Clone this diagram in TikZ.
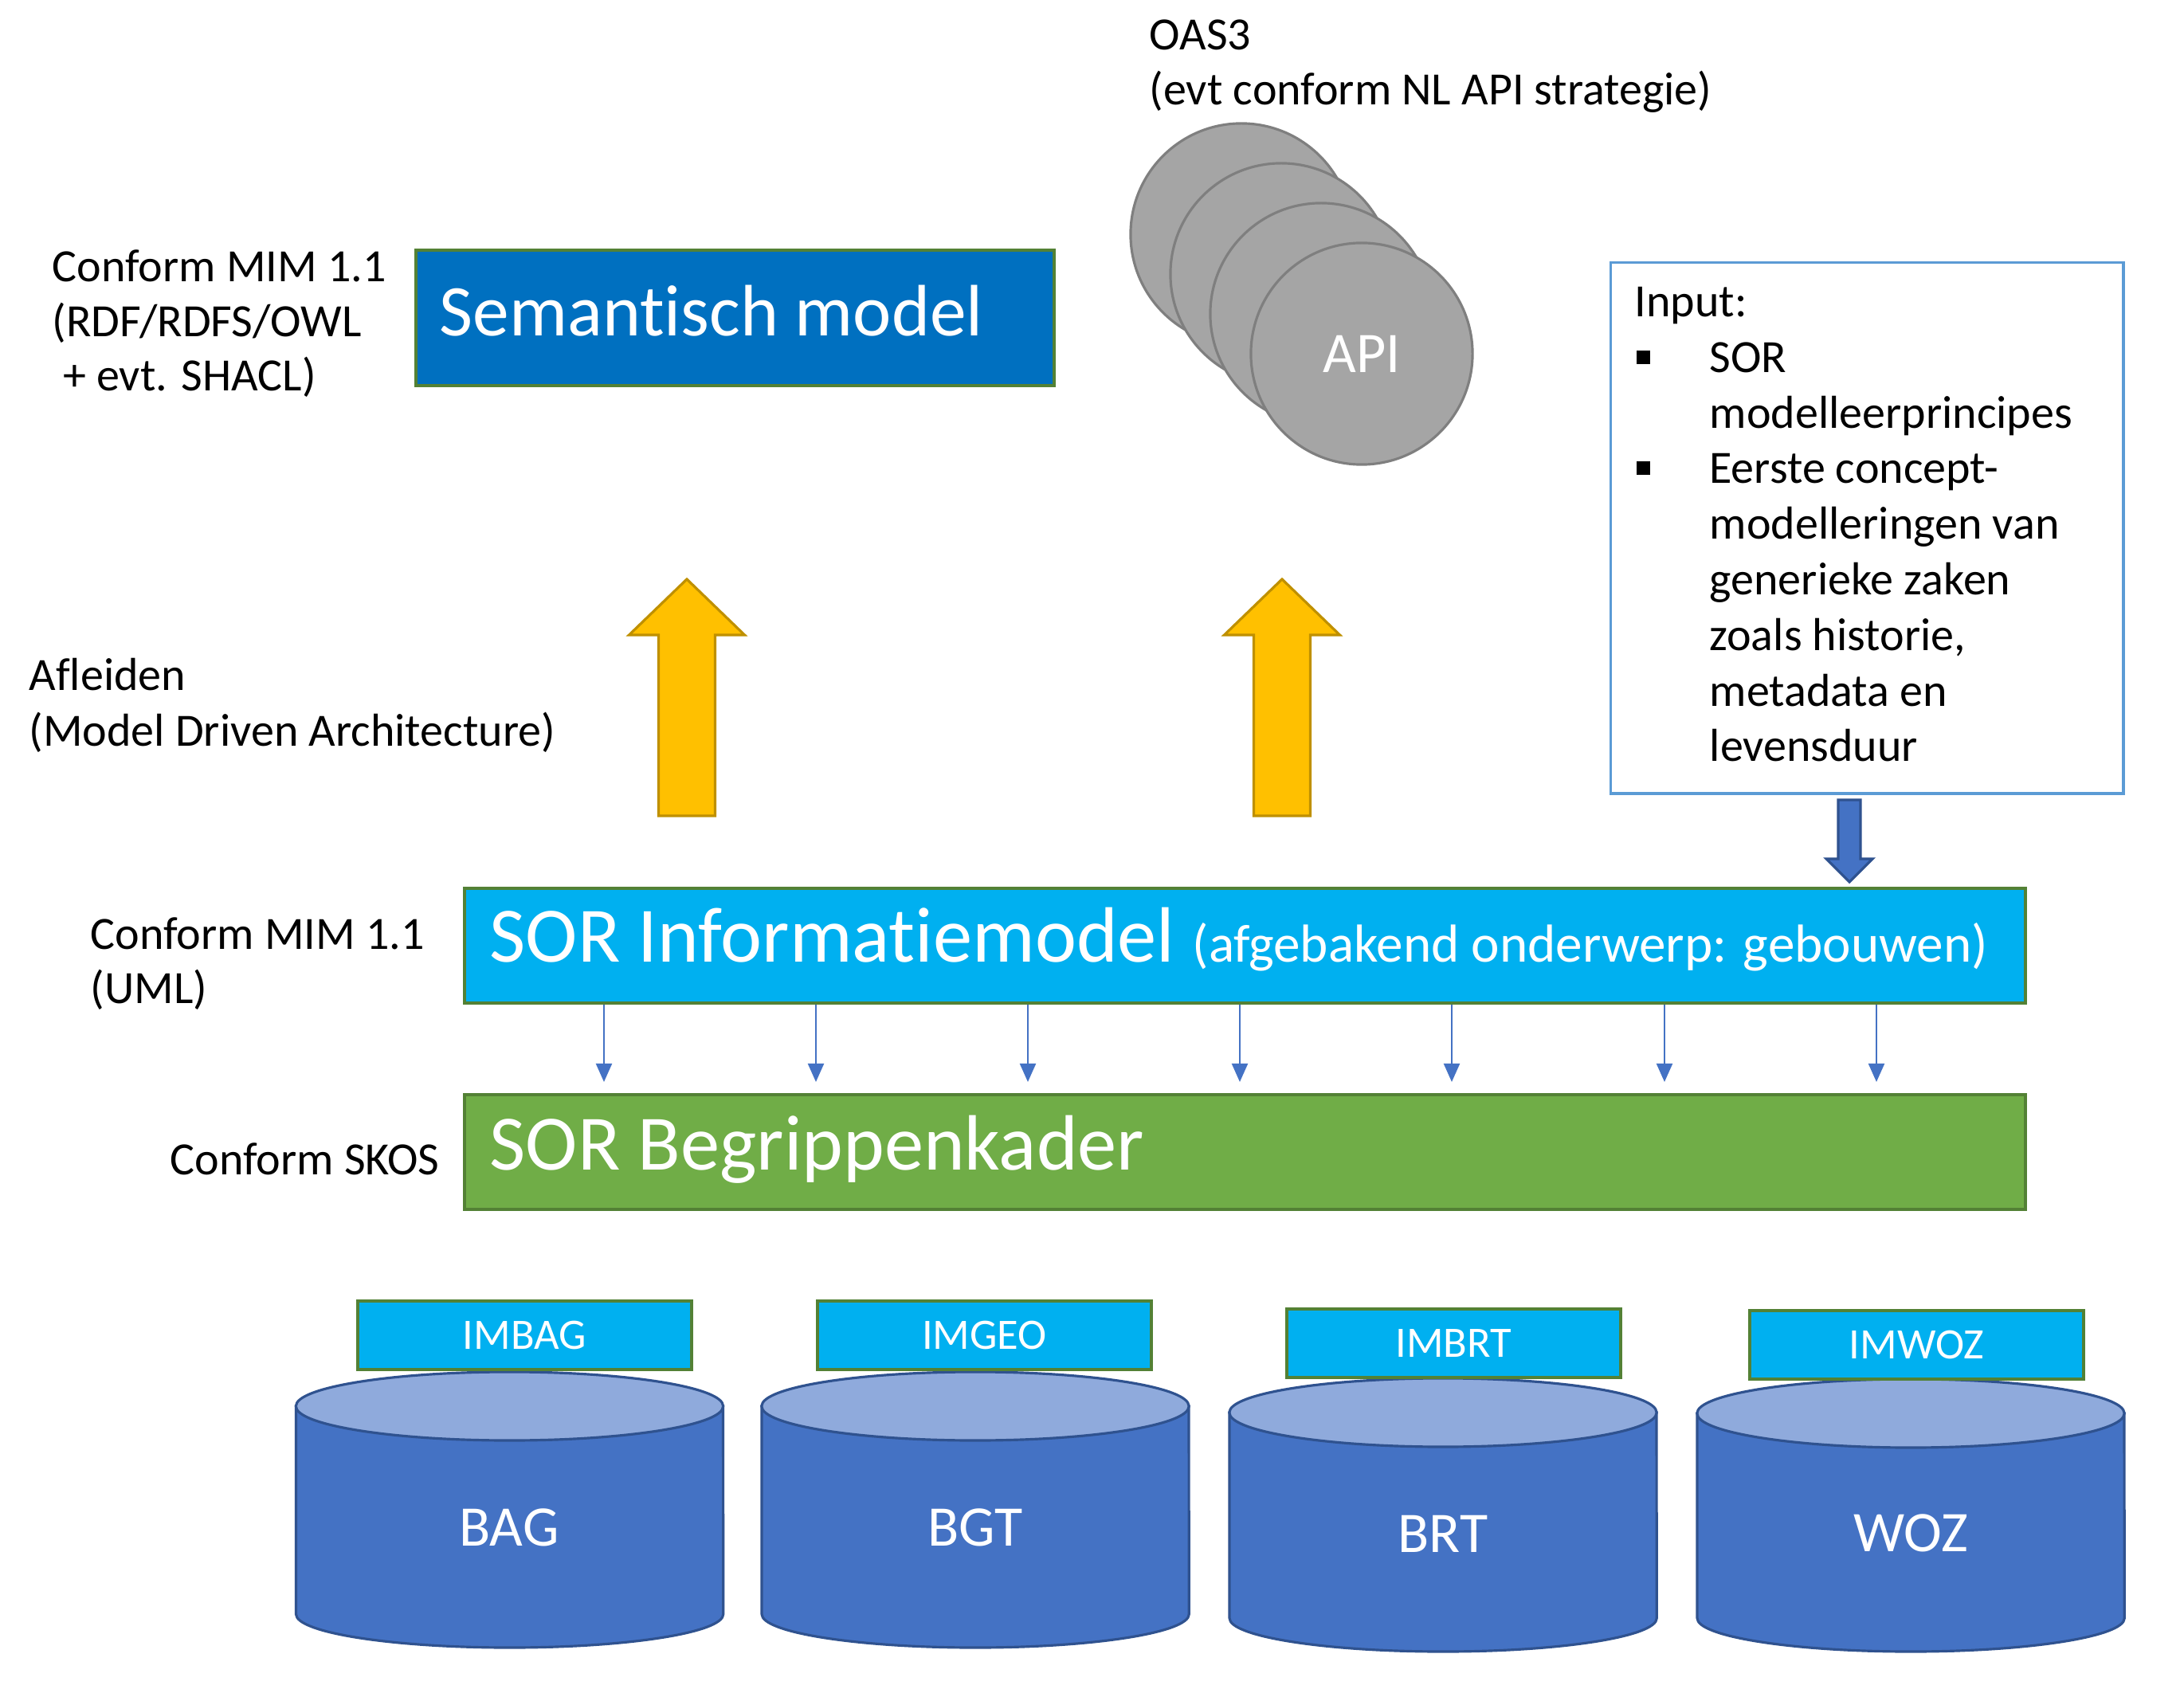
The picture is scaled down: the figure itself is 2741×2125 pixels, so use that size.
\documentclass[tikz,border=0pt]{standalone}
\usepackage{fontspec}
\setmainfont{Carlito}[Ligatures=NoCommon]
\usetikzlibrary{arrows.meta}
\definecolor{semblue}{HTML}{0070C0}
\definecolor{bgreen}{HTML}{538135}
\definecolor{cyanbox}{HTML}{00B0F0}
\definecolor{greenbox}{HTML}{70AD47}
\definecolor{inblue}{HTML}{5B9BD5}
\definecolor{apigray}{HTML}{A5A5A5}
\definecolor{apiborder}{HTML}{7F7F7F}
\definecolor{yfill}{HTML}{FFC000}
\definecolor{yborder}{HTML}{BF9000}
\definecolor{cylbody}{HTML}{4472C4}
\definecolor{cyltop}{HTML}{8FAADC}
\definecolor{cylborder}{HTML}{2F528F}
\tikzset{
  txt/.style={inner sep=0pt, anchor=base west, font=\fontsize{16.5}{19.8}\selectfont},
  box/.style={draw=bgreen, line width=1pt, anchor=north west, inner sep=0pt},
  apic/.style={circle, draw=apiborder, fill=apigray, line width=0.9pt, minimum size=2.78cm, inner sep=0pt},
  yarrow/.style={fill=yfill, draw=yborder, line width=0.9pt},
  cylstyle/.style={fill=cylbody, draw=cylborder, line width=0.9pt},
  smallarrow/.style={draw=cylbody, line width=0.6pt, -{Triangle[length=0.23cm,width=0.2cm]}},
  imbox/.style={box, fill=cyanbox, minimum width=4.19cm, minimum height=0.86cm, text=white, font=\fontsize{15.5}{18}\selectfont},
  cyllabel/.style={text=white, inner sep=0pt, font=\fontsize{20.5}{24}\selectfont},
  bigtxt/.style={inner sep=0pt, anchor=base west, text=white, font=\fontsize{28}{33}\selectfont}
}
\begin{document}
\begin{tikzpicture}[x=0.01cm,y=-0.01cm]
\useasboundingbox (0,0) rectangle (2741,2125);

% left top text
\node[txt] (l1) at (65,354) {Conform MIM 1.1};
\node[txt] (l2) at (65,423) {(RDF/RDFS/OWL};
\node[txt] (l3) at (65,491) {\hspace{0.23em}+ evt. SHACL)};

% Semantisch model
\node[box, fill=semblue, minimum width=8.01cm, minimum height=1.70cm] (sem) at (520,312) {};
\node[txt, text=white, font=\fontsize{26}{30}\selectfont] (semt) at (551,422) {Semantisch model};

% OAS3
\node[txt] (oas1) at (1442,63) {OAS3};
\node[txt] (oas2) at (1442,132) {(evt conform NL API strategie)};

% API circles
\node[apic] (c1) at (1558,294) {};
\node[apic] (c2) at (1608,344) {};
\node[apic] (c3) at (1658,394) {};
\node[apic, text=white, font=\fontsize{20.5}{24}\selectfont] (c4) at (1709,444) {API};

% Input box
\node[draw=inblue, line width=0.9pt, minimum width=6.43cm, minimum height=6.66cm, anchor=north west, inner sep=0pt] (inp) at (2020,328) {};
\node[txt] (i0) at (2051,398) {Input:};
\node[fill=black, minimum size=0.17cm, inner sep=0pt] (b1) at (2062,449) {};
\node[txt] (i1) at (2145,468) {SOR};
\node[txt] (i2) at (2145,538) {modelleerprincipes};
\node[fill=black, minimum size=0.17cm, inner sep=0pt] (b2) at (2062,588) {};
\node[txt] (i3) at (2145,607) {Eerste concept-};
\node[txt] (i4) at (2145,677) {modelleringen van};
\node[txt] (i5) at (2145,747) {generieke zaken};
\node[txt] (i6) at (2145,817) {zoals historie,};
\node[txt] (i7) at (2145,887) {metadata en};
\node[txt] (i8) at (2145,956) {levensduur};

% blue input arrow
\draw[fill=cylbody, draw=cylborder, line width=0.9pt] (2307,1004) -- (2335,1004) -- (2335,1078) -- (2350,1078) -- (2321,1107) -- (2292,1078) -- (2307,1078) -- cycle;

% Afleiden
\node[txt] (af1) at (36,867) {Afleiden};
\node[txt] (af2) at (36,937) {(Model Driven Architecture)};

% yellow arrows
\foreach \cx in {862,1609} {
  \draw[yarrow] (\cx-35.5,1024) -- (\cx-35.5,797) -- (\cx-72.5,797) -- (\cx,727) -- (\cx+72.5,797) -- (\cx+35.5,797) -- (\cx+35.5,1024) -- cycle;
}

% SOR Informatiemodel
\node[box, fill=cyanbox, minimum width=19.58cm, minimum height=1.44cm] (info) at (581,1113) {};
\node[bigtxt] (infot) at (614,1208) {SOR Informatiemodel {\fontsize{19.1}{22}\selectfont(afgebakend onderwerp: gebouwen)}};

\node[txt] (u1) at (113,1192) {Conform MIM 1.1};
\node[txt] (u2) at (113,1260) {(UML)};

% SOR Begrippenkader
\node[box, fill=greenbox, minimum width=19.58cm, minimum height=1.44cm] (begr) at (581,1372) {};
\node[bigtxt] (begrt) at (614,1468) {SOR Begrippenkader};
\node[txt] (sk) at (213,1475) {Conform SKOS};

% small arrows
\foreach \x [count=\i] in {758,1024,1290,1556,1822,2089,2355} {
  \coordinate (t\i) at (\x,1358);
  \draw[smallarrow] (info.south -| t\i) -- (t\i);
}

% cylinders
\foreach \cx/\yt/\yb in {639.5/1765/2026, 1224/1765/2026, 1811/1773/2031, 2398/1774/2031} {
  \path[cylstyle] (\cx-268,\yt) -- (\cx-268,\yb) arc[start angle=180, end angle=360, x radius=2.68cm, y radius=0.42cm] -- (\cx+268,\yt) -- cycle;
  \draw[fill=cyltop, draw=cylborder, line width=0.9pt] (\cx,\yt) ellipse[x radius=2.68cm, y radius=0.43cm];
}
\node[cyllabel] (bag) at (639,1917) {BAG};
\node[cyllabel] (bgt) at (1224,1917) {BGT};
\node[cyllabel] (brt) at (1811,1925) {BRT};
\node[cyllabel] (woz) at (2398,1924) {WOZ};

% IM boxes
\node[imbox] (imbag) at (447,1631) {IMBAG};
\node[imbox] (imgeo) at (1024,1631) {IMGEO};
\node[imbox] (imbrt) at (1613,1641) {IMBRT};
\node[imbox] (imwoz) at (2194,1643) {IMWOZ};
\end{tikzpicture}
\end{document}
